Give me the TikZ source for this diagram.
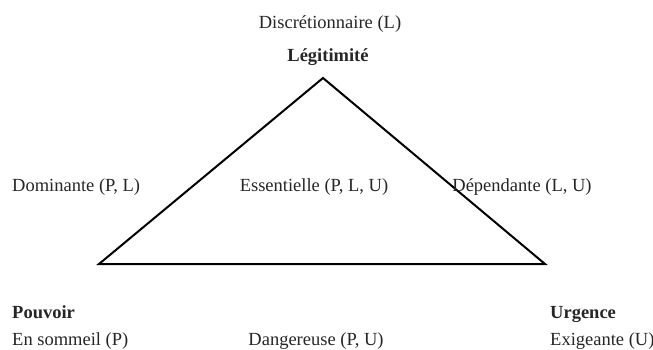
\documentclass[tikz,border=0pt]{standalone}
\usepackage{fontspec}
\setmainfont{Liberation Serif}
\begin{document}
\begin{tikzpicture}[x=1pt,y=-1pt,
  lbl/.style={inner sep=0pt,anchor=base,font=\fontsize{18.5}{22}\selectfont,text=black!85},
  lblw/.style={lbl,anchor=base west},
  bold/.style={font=\fontsize{18.5}{22}\selectfont\bfseries},
  edge/.style={line width=2pt,line join=miter}]
\useasboundingbox (0,0) rectangle (653,350);
\coordinate (A) at (323,78);
\coordinate (B) at (99,264);
\coordinate (C) at (545,264);
\draw[edge] (A) -- (B) -- (C) -- cycle;
\node[lbl] (disc) at (330,29) {Discrétionnaire (L)};
\node[lbl,bold] (leg) at (328,62) {Légitimité};
\node[lblw] (dom) at (12,191) {Dominante (P, L)};
\node[lbl] (ess) at (314,191) {Essentielle (P, L, U)};
\node[lbl] (dep) at (522,191) {Dépendante (L, U)};
\node[lblw,bold] (pou) at (12,318) {Pouvoir};
\node[lblw] (som) at (12,345) {En sommeil (P)};
\node[lbl] (dan) at (316,345) {Dangereuse (P, U)};
\node[lblw,bold] (urg) at (550,318) {Urgence};
\node[lblw] (exi) at (550,345) {Exigeante (U)};
\end{tikzpicture}
\end{document}
